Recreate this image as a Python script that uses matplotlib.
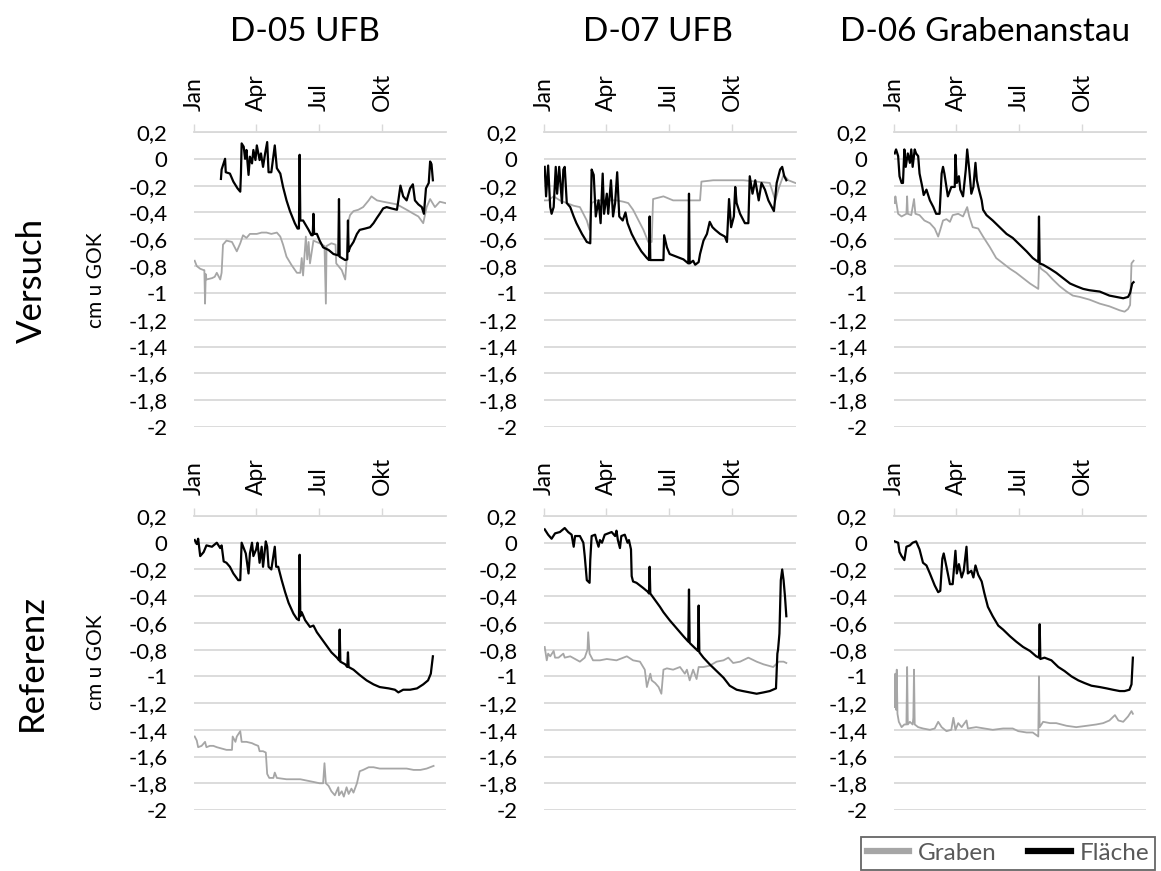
#Groundwater levels, Versuch vs Referenz

import matplotlib.pyplot as plt
import numpy as np
from matplotlib.lines import Line2D

plt.rcParams['font.family'] = ['Lato', 'DejaVu Sans']

# (day of year, level)
D05_VERSUCH_GRABEN = [(1,-0.76),(4,-0.80),(9,-0.82),(14,-0.83),(15,-0.83),(16,-1.08),(17,-0.86),(18,-0.90),(26,-0.89),(30,-0.88),(33,-0.85),(38,-0.90),(40,-0.85),(42,-0.64),(47,-0.61),(55,-0.62),(62,-0.69),(67,-0.63),(71,-0.57),(76,-0.59),(81,-0.56),(91,-0.56),(98,-0.55),(105,-0.55),(112,-0.56),(120,-0.55),(125,-0.58),(129,-0.64),(134,-0.73),(141,-0.79),(149,-0.85),(154,-0.85),(156,-0.74),(158,-0.87),(162,-0.58),(164,-0.75),(166,-0.62),(168,-0.78),(173,-0.61),(182,-0.63),(189,-0.65),(191,-1.08),(192,-0.65),(199,-0.63),(205,-0.64),(206,-0.78),(214,-0.83),(219,-0.90),(221,-0.76),(224,-0.46),(226,-0.42),(231,-0.39),(238,-0.38),(245,-0.36),(253,-0.31),(257,-0.28),(265,-0.31),(274,-0.32),(284,-0.33),(294,-0.34),(301,-0.36),(308,-0.38),(318,-0.41),(325,-0.43),(332,-0.48),(337,-0.36),(342,-0.30),(349,-0.36),(356,-0.32),(364,-0.33)]
D05_VERSUCH_FLAECHE = [(39,-0.15),(40,-0.08),(45,0.0),(46,-0.10),(52,-0.11),(57,-0.17),(63,-0.22),(67,-0.245),(68,-0.11),(69,0.115),(72,0.09),(74,0.0),(76,0.066),(79,-0.12),(81,0.016),(84,-0.034),(86,0.066),(89,-0.009),(91,0.10),(95,-0.009),(97,0.04),(100,-0.06),(103,0.04),(106,0.125),(108,-0.10),(112,-0.10),(117,0.10),(120,-0.07),(125,-0.11),(129,-0.21),(134,-0.31),(139,-0.39),(146,-0.48),(150,-0.52),(152,-0.52),(153,0.03),(154,-0.46),(158,-0.46),(166,-0.53),(170,-0.57),(172,-0.57),(173,-0.41),(174,-0.56),(178,-0.56),(182,-0.61),(187,-0.66),(195,-0.68),(202,-0.71),(209,-0.72),(210,-0.30),(211,-0.73),(219,-0.755),(222,-0.75),(223,-0.46),(224,-0.69),(226,-0.66),(231,-0.62),(236,-0.56),(240,-0.53),(248,-0.52),(255,-0.51),(260,-0.48),(265,-0.44),(269,-0.41),(274,-0.37),(279,-0.36),(286,-0.37),(294,-0.38),(296,-0.31),(299,-0.20),(303,-0.28),(308,-0.31),(313,-0.22),(317,-0.19),(320,-0.31),(325,-0.34),(330,-0.36),(333,-0.41),(336,-0.22),(340,-0.18),(342,-0.02),(344,-0.04),(346,-0.16)]

D07_VERSUCH_GRABEN = [(1,-0.31),(6,-0.31),(14,-0.28),(23,-0.31),(33,-0.33),(43,-0.35),(52,-0.36),(57,-0.41),(62,-0.46),(66,-0.53),(69,-0.33),(76,-0.31),(91,-0.31),(105,-0.31),(115,-0.32),(122,-0.33),(129,-0.38),(137,-0.46),(144,-0.53),(151,-0.62),(156,-0.62),(158,-0.30),(173,-0.28),(187,-0.31),(207,-0.31),(226,-0.31),(228,-0.17),(245,-0.16),(269,-0.16),(289,-0.16),(308,-0.17),(327,-0.18),(335,-0.31),(340,-0.22),(347,-0.12),(354,-0.16),(364,-0.18)]
D07_VERSUCH_FLAECHE = [(1,-0.06),(3,-0.28),(6,-0.05),(9,-0.36),(11,-0.41),(14,-0.36),(17,-0.06),(19,-0.26),(22,-0.06),(26,-0.33),(28,-0.08),(30,-0.06),(33,-0.33),(38,-0.36),(43,-0.43),(47,-0.48),(55,-0.56),(62,-0.62),(67,-0.63),(69,-0.08),(72,-0.12),(75,-0.43),(79,-0.31),(82,-0.48),(85,-0.11),(87,-0.41),(91,-0.26),(93,-0.41),(97,-0.16),(100,-0.43),(103,-0.33),(106,-0.10),(109,-0.43),(114,-0.46),(118,-0.40),(121,-0.48),(127,-0.56),(134,-0.63),(141,-0.69),(149,-0.74),(152,-0.755),(153,-0.43),(154,-0.755),(163,-0.755),(173,-0.755),(174,-0.57),(178,-0.66),(182,-0.71),(192,-0.73),(202,-0.75),(209,-0.78),(210,-0.26),(211,-0.78),(216,-0.76),(219,-0.79),(224,-0.77),(226,-0.71),(231,-0.61),(236,-0.56),(240,-0.47),(244,-0.51),(248,-0.53),(255,-0.56),(262,-0.58),(265,-0.62),(268,-0.30),(271,-0.51),(275,-0.43),(277,-0.21),(279,-0.33),(284,-0.41),(291,-0.48),(296,-0.48),(298,-0.13),(302,-0.26),(306,-0.16),(311,-0.31),(315,-0.18),(320,-0.23),(325,-0.31),(330,-0.36),(333,-0.39),(337,-0.18),(342,-0.08),(345,-0.06),(348,-0.13),(351,-0.16)]

D06_VERSUCH_GRABEN = [(1,-0.33),(2,-0.28),(6,-0.41),(11,-0.43),(18,-0.41),(19,-0.28),(20,-0.41),(25,-0.42),(29,-0.30),(31,-0.41),(37,-0.42),(44,-0.46),(52,-0.48),(59,-0.52),(64,-0.58),(67,-0.53),(71,-0.46),(76,-0.45),(81,-0.47),(85,-0.42),(93,-0.41),(100,-0.43),(106,-0.36),(109,-0.43),(114,-0.51),(122,-0.52),(129,-0.58),(139,-0.66),(148,-0.74),(158,-0.78),(168,-0.82),(177,-0.85),(187,-0.89),(197,-0.93),(209,-0.97),(210,-0.79),(213,-0.82),(221,-0.85),(230,-0.90),(240,-0.95),(250,-0.99),(259,-1.02),(269,-1.03),(283,-1.05),(298,-1.08),(312,-1.10),(327,-1.13),(334,-1.14),(339,-1.12),(342,-1.09),(344,-0.78),(347,-0.76)]
D06_VERSUCH_FLAECHE = [(1,0.04),(3,0.07),(6,0.02),(8,-0.13),(11,-0.18),(13,-0.18),(15,0.07),(17,-0.06),(20,0.04),(23,-0.03),(25,0.07),(27,-0.06),(30,0.07),(32,0.04),(35,0.02),(37,-0.11),(41,-0.21),(43,-0.27),(47,-0.23),(52,-0.31),(57,-0.36),(61,-0.41),(66,-0.41),(69,-0.11),(71,-0.06),(73,-0.11),(78,-0.28),(83,-0.21),(88,-0.21),(89,0.03),(91,-0.18),(94,-0.13),(96,-0.23),(100,-0.28),(104,-0.08),(106,0.07),(109,-0.08),(112,-0.26),(115,-0.21),(118,-0.03),(120,-0.16),(123,-0.23),(127,-0.31),(129,-0.38),(134,-0.42),(143,-0.46),(153,-0.51),(163,-0.56),(172,-0.59),(182,-0.64),(192,-0.69),(201,-0.74),(209,-0.77),(210,-0.43),(211,-0.78),(216,-0.79),(226,-0.82),(235,-0.85),(245,-0.89),(255,-0.93),(264,-0.95),(274,-0.97),(283,-0.98),(298,-0.99),(312,-1.02),(322,-1.03),(332,-1.04),(339,-1.03),(342,-1.00),(345,-0.93),(347,-0.92)]

D05_REFERENZ_GRABEN = [(1,-1.45),(4,-1.48),(6,-1.53),(11,-1.52),(16,-1.49),(18,-1.53),(23,-1.52),(28,-1.52),(33,-1.53),(40,-1.54),(47,-1.55),(55,-1.55),(56,-1.45),(60,-1.49),(62,-1.45),(67,-1.41),(69,-1.49),(76,-1.49),(84,-1.50),(88,-1.51),(93,-1.52),(95,-1.56),(100,-1.56),(104,-1.57),(106,-1.73),(109,-1.76),(115,-1.76),(117,-1.72),(120,-1.76),(134,-1.77),(154,-1.77),(173,-1.79),(182,-1.80),(187,-1.80),(189,-1.65),(191,-1.80),(195,-1.82),(199,-1.86),(204,-1.89),(209,-1.83),(210,-1.89),(214,-1.86),(217,-1.90),(221,-1.83),(224,-1.88),(228,-1.84),(231,-1.87),(236,-1.80),(240,-1.71),(245,-1.70),(253,-1.68),(260,-1.68),(269,-1.69),(289,-1.69),(308,-1.69),(318,-1.70),(328,-1.70),(337,-1.69),(347,-1.67)]
D05_REFERENZ_FLAECHE = [(1,0.02),(4,-0.01),(6,0.03),(9,-0.10),(14,-0.07),(18,-0.02),(26,-0.03),(33,0.0),(38,-0.04),(40,-0.02),(43,-0.14),(47,-0.15),(52,-0.18),(57,-0.23),(64,-0.28),(67,-0.28),(69,0.0),(72,-0.04),(75,-0.08),(79,-0.23),(81,-0.08),(84,0.0),(86,-0.10),(90,-0.05),(92,0.0),(95,-0.15),(98,-0.03),(100,-0.18),(104,0.01),(106,-0.03),(108,-0.18),(112,-0.20),(117,-0.03),(119,-0.18),(122,-0.18),(127,-0.28),(132,-0.37),(137,-0.45),(144,-0.53),(149,-0.57),(152,-0.58),(153,-0.09),(154,-0.55),(156,-0.52),(161,-0.58),(168,-0.63),(173,-0.62),(178,-0.67),(185,-0.72),(192,-0.77),(199,-0.82),(207,-0.86),(210,-0.88),(211,-0.65),(212,-0.89),(219,-0.91),(222,-0.93),(223,-0.82),(224,-0.93),(231,-0.95),(240,-0.99),(250,-1.03),(260,-1.06),(269,-1.08),(282,-1.09),(291,-1.10),(296,-1.12),(303,-1.10),(313,-1.10),(323,-1.09),(332,-1.06),(339,-1.03),(343,-0.98),(346,-0.85)]

D07_REFERENZ_GRABEN = [(1,-0.78),(4,-0.88),(6,-0.83),(9,-0.85),(14,-0.81),(16,-0.86),(21,-0.86),(28,-0.83),(30,-0.86),(38,-0.85),(45,-0.87),(52,-0.89),(59,-0.86),(63,-0.80),(64,-0.67),(66,-0.83),(71,-0.88),(81,-0.88),(91,-0.87),(105,-0.88),(120,-0.85),(129,-0.88),(139,-0.89),(146,-0.95),(149,-1.08),(154,-0.98),(156,-1.03),(161,-1.05),(166,-1.08),(170,-1.13),(173,-0.95),(178,-0.94),(187,-0.95),(197,-0.93),(204,-0.98),(207,-0.95),(211,-1.03),(216,-0.95),(221,-1.02),(224,-0.93),(231,-0.93),(240,-0.92),(250,-0.89),(260,-0.88),(267,-0.86),(274,-0.90),(284,-0.89),(296,-0.86),(308,-0.89),(318,-0.91),(332,-0.93),(340,-0.89),(347,-0.89),(351,-0.90)]
D07_REFERENZ_FLAECHE = [(1,0.10),(6,0.06),(11,0.03),(16,0.07),(23,0.08),(30,0.11),(35,0.08),(40,0.06),(43,-0.03),(45,0.05),(52,0.05),(57,0.0),(59,-0.10),(62,-0.28),(66,-0.30),(67,-0.13),(69,0.05),(74,0.06),(76,0.02),(79,-0.03),(81,0.02),(84,0.0),(88,0.06),(93,0.07),(98,0.08),(103,0.05),(105,0.09),(107,0.02),(110,-0.04),(112,0.05),(117,0.06),(121,0.0),(123,0.02),(126,-0.05),(127,-0.25),(129,-0.29),(134,-0.30),(144,-0.34),(151,-0.37),(152,-0.38),(153,-0.18),(154,-0.38),(161,-0.43),(168,-0.48),(173,-0.52),(182,-0.58),(192,-0.64),(202,-0.70),(209,-0.74),(210,-0.35),(211,-0.75),(219,-0.79),(223,-0.81),(224,-0.47),(225,-0.82),(231,-0.86),(240,-0.91),(250,-0.96),(260,-1.01),(269,-1.07),(279,-1.10),(288,-1.11),(298,-1.12),(308,-1.13),(318,-1.12),(327,-1.11),(336,-1.09),(338,-0.83),(339,-0.80),(341,-0.68),(343,-0.28),(345,-0.20),(347,-0.28),(349,-0.40),(351,-0.55)]

D06_REFERENZ_GRABEN = [(1,-1.23),(2,-0.98),(3,-1.25),(4,-0.95),(5,-1.28),(7,-1.34),(11,-1.38),(15,-1.36),(18,-1.36),(19,-0.93),(20,-1.36),(23,-1.34),(27,-1.36),(28,-1.31),(29,-0.95),(30,-1.36),(35,-1.38),(42,-1.39),(52,-1.40),(59,-1.39),(64,-1.34),(69,-1.38),(76,-1.41),(83,-1.40),(86,-1.31),(89,-1.40),(93,-1.35),(98,-1.38),(105,-1.33),(107,-1.39),(119,-1.38),(131,-1.39),(143,-1.40),(158,-1.39),(172,-1.39),(180,-1.41),(192,-1.42),(201,-1.42),(209,-1.45),(210,-1.00),(211,-1.38),(216,-1.34),(226,-1.35),(235,-1.35),(250,-1.37),(264,-1.38),(279,-1.37),(293,-1.36),(303,-1.35),(312,-1.33),(320,-1.29),(325,-1.33),(332,-1.34),(339,-1.30),(344,-1.26),(346,-1.28)]
D06_REFERENZ_FLAECHE = [(1,0.01),(6,0.0),(8,-0.07),(11,-0.10),(15,-0.13),(18,-0.03),(23,-0.02),(27,0.0),(32,0.01),(37,-0.05),(42,-0.15),(47,-0.17),(52,-0.23),(59,-0.32),(64,-0.37),(67,-0.36),(70,-0.12),(72,-0.08),(76,-0.18),(81,-0.31),(85,-0.31),(89,-0.06),(91,-0.23),(94,-0.16),(98,-0.26),(101,-0.21),(105,-0.03),(107,-0.23),(112,-0.21),(115,-0.26),(118,-0.17),(122,-0.24),(127,-0.29),(131,-0.38),(136,-0.48),(143,-0.55),(151,-0.62),(158,-0.65),(168,-0.70),(177,-0.74),(187,-0.78),(197,-0.81),(206,-0.85),(210,-0.86),(211,-0.61),(212,-0.87),(218,-0.86),(228,-0.88),(238,-0.93),(247,-0.96),(257,-1.00),(267,-1.03),(276,-1.05),(286,-1.07),(298,-1.08),(308,-1.09),(317,-1.10),(327,-1.11),(334,-1.11),(341,-1.10),(344,-1.06),(346,-0.86)]

COL_TITLES = ['D-05 UFB', 'D-07 UFB', 'D-06 Grabenanstau']
ROW_TITLES = ['Versuch', 'Referenz']
MONTH_DAYS = [0, 90, 181, 273]
MONTH_LABELS = ['Jan', 'Apr', 'Jul', 'Okt']
Y_TICKS = [0.2, 0.0, -0.2, -0.4, -0.6, -0.8, -1.0, -1.2, -1.4, -1.6, -1.8, -2.0]

PANELS = [
    [(D05_VERSUCH_GRABEN, D05_VERSUCH_FLAECHE), (D07_VERSUCH_GRABEN, D07_VERSUCH_FLAECHE), (D06_VERSUCH_GRABEN, D06_VERSUCH_FLAECHE)],
    [(D05_REFERENZ_GRABEN, D05_REFERENZ_FLAECHE), (D07_REFERENZ_GRABEN, D07_REFERENZ_FLAECHE), (D06_REFERENZ_GRABEN, D06_REFERENZ_FLAECHE)],
]

GREY = '#a6a6a6'
GRID = '#d9d9d9'
W, H = 1161, 871


def de_label(v):
    v = round(v, 1)
    if v == int(v):
        return str(int(v))
    return f'{v:.1f}'.replace('.', ',')


def main():
    fig = plt.figure(figsize=(W / 100, H / 100), dpi=100)

    col_left = [194, 544, 894]
    row_top = [132, 516]
    row_bot = [427, 810]
    ax_w = 252

    for r in range(2):
        for c in range(3):
            ax = fig.add_axes([col_left[c] / W, 1 - row_bot[r] / H,
                               ax_w / W, (row_bot[r] - row_top[r]) / H])
            graben, flaeche = PANELS[r][c]
            gd, gv = zip(*graben)
            fd, fv = zip(*flaeche)
            ax.plot(gd, gv, color=GREY, lw=1.3, zorder=2)
            ax.plot(fd, fv, color='black', lw=1.6, zorder=3)

            ax.set_xlim(0, 365)
            ax.set_ylim(-2, 0.2)
            ax.xaxis.tick_top()
            ax.set_xticks(MONTH_DAYS)
            ax.set_xticklabels(MONTH_LABELS, rotation=90)
            ax.tick_params(axis='x', direction='out', length=6, color=GRID,
                           width=1, pad=9, labelsize=16.5)
            ax.set_yticks(Y_TICKS)
            ax.set_yticklabels([de_label(v) for v in Y_TICKS])
            ax.tick_params(axis='y', length=0, pad=19, labelsize=16)
            ax.yaxis.grid(True, color=GRID, lw=1.3, zorder=0)
            for s in ['left', 'right', 'bottom']:
                ax.spines[s].set_visible(False)
            ax.spines['top'].set_color(GRID)
            ax.spines['top'].set_linewidth(1.3)
            ax.set_facecolor('none')

    title_x = [305, 658, 985]
    for t, x in zip(COL_TITLES, title_x):
        fig.text(x / W, 1 - 32 / H, t, ha='center', va='center', fontsize=24)

    row_y = [280, 662]
    for t, y in zip(ROW_TITLES, row_y):
        fig.text(32 / W, 1 - y / H, t, ha='center', va='center',
                 rotation=90, fontsize=25)
        fig.text(96 / W, 1 - y / H, 'cm u GOK', ha='center', va='center',
                 rotation=90, fontsize=15)

    handles = [Line2D([], [], color=GREY, lw=4.5),
               Line2D([], [], color='black', lw=4.5)]
    leg = fig.legend(handles, ['Graben', 'Fläche'], loc='lower right',
                     bbox_to_anchor=(1155 / W, 1 - 870 / H), ncol=2,
                     fancybox=False, edgecolor='#404040', fontsize=17.5,
                     handlelength=1.75, handletextpad=0.35, columnspacing=1.3,
                     borderpad=0.25, borderaxespad=0)
    leg.get_frame().set_linewidth(1.3)
    for txt in leg.get_texts():
        txt.set_color('#595959')

    plt.savefig('out.png', dpi=100)
    plt.close()


if __name__ == '__main__':
    main()
